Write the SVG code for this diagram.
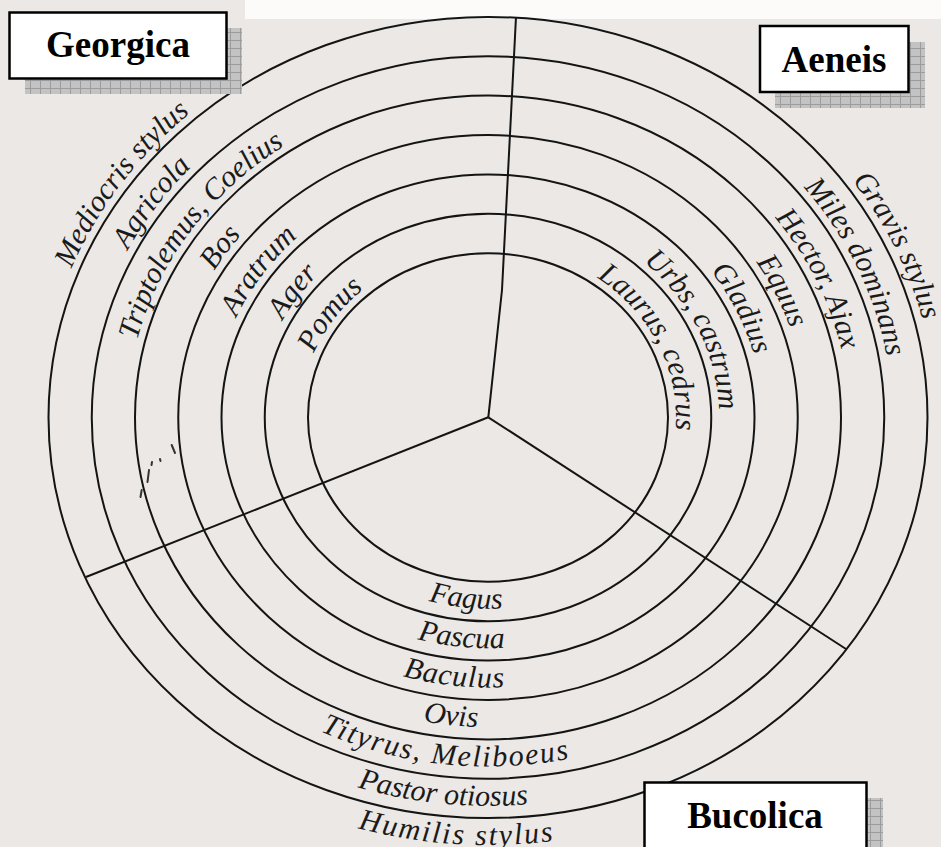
<svg xmlns="http://www.w3.org/2000/svg" width="941" height="847" viewBox="0 0 941 847">
<defs>
<pattern id="grid" width="10" height="8" patternUnits="userSpaceOnUse">
<rect width="10" height="8" fill="#c3c3c3"/>
<path d="M0 0.5H10M0.5 0V8" stroke="#9c9c9c" stroke-width="1" fill="none"/>
</pattern>
<style>
.ring{fill:none;stroke:#141414;stroke-width:2}
.spoke{fill:none;stroke:#141414;stroke-width:2;stroke-linejoin:round}
.lbl{font-family:"Liberation Serif","Times New Roman",serif;font-style:italic;font-size:30px;fill:#1a1a1a}
.box{fill:#ffffff;stroke:#000;stroke-width:2.5}
.shadow{fill:url(#grid)}
.title{font-family:"Liberation Serif","Times New Roman",serif;font-weight:bold;font-size:37px;fill:#000;text-anchor:middle}
.mark{fill:none;stroke:#333;stroke-width:2;stroke-linecap:round}
</style>
<path id="g1" d="M55.8 523.1A447.5 407.9 0 0 1 449 11.2"/>
<path id="g2" d="M97.5 512.9A404.25 368.5 0 0 1 452.7 50.4"/>
<path id="g3" d="M139.3 502.7A361 329.1 0 0 1 456.5 89.7"/>
<path id="g4" d="M181.1 492.5A317.75 289.6 0 0 1 460.3 129"/>
<path id="g5" d="M222.9 482.3A274.5 250.2 0 0 1 464.1 168.3"/>
<path id="g6" d="M264.6 472.1A231.25 210.8 0 0 1 467.8 207.5"/>
<path id="g7" d="M306.4 461.9A188 171.4 0 0 1 471.6 246.8"/>
<path id="a1" d="M603.8 23.5A447.5 407.9 0 0 1 893.6 589.9"/>
<path id="a2" d="M592.6 61.6A404.25 368.5 0 0 1 854.4 573.2"/>
<path id="a3" d="M581.4 99.6A361 329.1 0 0 1 815.2 556.6"/>
<path id="a4" d="M570.2 137.8A317.75 289.6 0 0 1 776 539.9"/>
<path id="a5" d="M559 175.8A274.5 250.2 0 0 1 736.8 523.2"/>
<path id="a6" d="M547.8 213.9A231.25 210.8 0 0 1 697.6 506.6"/>
<path id="a7" d="M536.7 251.9A188 171.4 0 0 1 658.4 489.9"/>
<path id="b1" d="M313.1 523A209.75 191.2 0 0 0 632.4 556.2"/>
<path id="b2" d="M277 544.8A253 230.6 0 0 0 662.2 584.8"/>
<path id="b3" d="M241 566.5A296.25 270 0 0 0 691.9 613.4"/>
<path id="b4" d="M204.9 588.3A339.5 309.5 0 0 0 721.7 642"/>
<path id="b5" d="M168.8 610.1A382.75 348.9 0 0 0 751.5 670.6"/>
<path id="b6" d="M132.8 631.8A426 388.3 0 0 0 781.3 699.2"/>
<path id="b7" d="M96.9 653.4A469 427.5 0 0 0 810.9 727.6"/>
</defs>

<rect x="0" y="0" width="941" height="847" fill="#ebe8e5"/>
<rect x="245" y="0" width="696" height="19" fill="#fcfbfa"/>

<g id="rings">
<ellipse class="ring" cx="488" cy="417.5" rx="180" ry="164.3"/>
<ellipse class="ring" cx="488" cy="417.5" rx="223.25" ry="203.8"/>
<ellipse class="ring" cx="488" cy="417.5" rx="266.5" ry="243.1"/>
<ellipse class="ring" cx="488" cy="417.5" rx="309.75" ry="282.4"/>
<ellipse class="ring" cx="488" cy="417.5" rx="353" ry="321.9"/>
<ellipse class="ring" cx="488" cy="417.5" rx="396.25" ry="361.2"/>
<ellipse class="ring" cx="488" cy="417.5" rx="439.5" ry="400.6"/>
</g>

<g id="connectors">
<polyline class="spoke" points="488.3,417.3 502,290 516,17"/>
<line class="spoke" x1="488.3" y1="417.3" x2="86" y2="577"/>
<line class="spoke" x1="488.3" y1="417.3" x2="846" y2="649"/>
</g>

<g id="marks">
<path class="mark" d="M171.7 445L175 453M160 459L160.5 461M152 462L151.5 465M149 470L147.5 482M141.7 490L140.5 497"/>
</g>

<g id="georgica-labels" class="lbl" text-anchor="middle">
<text><textPath href="#g1" startOffset="48.5%">Mediocris stylus</textPath></text>
<text><textPath href="#g2" startOffset="48.5%">Agricola</textPath></text>
<text><textPath href="#g3" startOffset="48.5%">Triptolemus, Coelius</textPath></text>
<text><textPath href="#g4" startOffset="48.3%">Bos</textPath></text>
<text><textPath href="#g5" startOffset="48.5%">Aratrum</textPath></text>
<text><textPath href="#g6" startOffset="48.7%">Ager</textPath></text>
<text><textPath href="#g7" startOffset="49%">Pomus</textPath></text>
</g>

<g id="aeneis-labels" class="lbl" text-anchor="middle">
<text><textPath href="#a1" startOffset="51.5%">Gravis stylus</textPath></text>
<text><textPath href="#a2" startOffset="52%">Miles dominans</textPath></text>
<text><textPath href="#a3" startOffset="51.5%">Hector, Ajax</textPath></text>
<text><textPath href="#a4" startOffset="51%">Equus</textPath></text>
<text><textPath href="#a5" startOffset="51%">Gladius</textPath></text>
<text><textPath href="#a6" startOffset="51%">Urbs, castrum</textPath></text>
<text><textPath href="#a7" startOffset="50.5%">Laurus, cedrus</textPath></text>
</g>

<g id="bucolica-labels" class="lbl" text-anchor="middle">
<text><textPath href="#b1" startOffset="50%">Fagus</textPath></text>
<text><textPath href="#b2" startOffset="50%">Pascua</textPath></text>
<text><textPath href="#b3" startOffset="49.5%" letter-spacing="1">Baculus</textPath></text>
<text><textPath href="#b4" startOffset="49.8%">Ovis</textPath></text>
<text><textPath href="#b5" startOffset="49.5%" letter-spacing="1.8">Tityrus, Meliboeus</textPath></text>
<text><textPath href="#b6" startOffset="50%">Pastor otiosus</textPath></text>
<text><textPath href="#b7" startOffset="52.3%" letter-spacing="2">Humilis stylus</textPath></text>
</g>

<g id="georgica">
<rect class="shadow" x="25" y="28" width="217" height="66"/>
<rect class="box" x="9.5" y="12.5" width="217" height="66"/>
<text class="title" x="118" y="57">Georgica</text>
</g>

<g id="aeneis">
<rect class="shadow" x="775" y="42" width="150" height="66"/>
<rect class="box" x="760" y="26" width="148.5" height="66"/>
<text class="title" x="834" y="71.5">Aeneis</text>
</g>

<g id="bucolica">
<rect class="shadow" x="660" y="798" width="223" height="60"/>
<rect class="box" x="644.5" y="782.5" width="222" height="70"/>
<text class="title" x="755" y="828">Bucolica</text>
</g>
</svg>
